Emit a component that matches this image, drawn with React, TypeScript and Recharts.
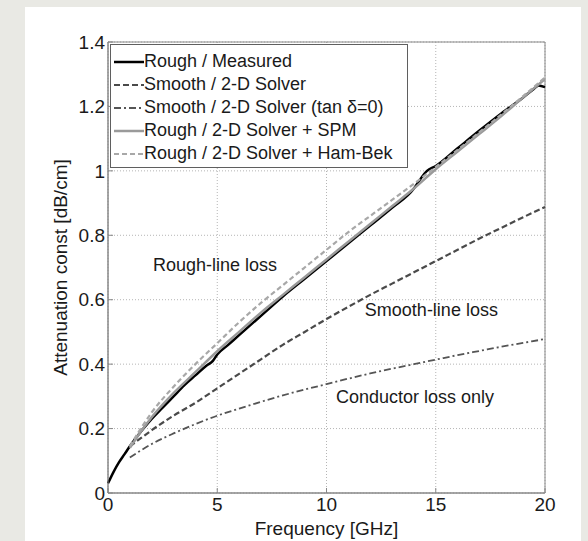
import { LineChart, Line, XAxis, YAxis, CartesianGrid, ReferenceArea, ReferenceDot } from 'recharts'

// measured curve (dense, starts at DC)
const measuredFreq = [0, 0.25, 0.5, 0.75, 1, 1.5, 2, 2.5, 3, 3.5, 4, 4.5, 4.8, 5, 5.5, 6, 7, 8, 9, 10, 11, 12, 13, 14, 14.3, 14.6, 15, 16, 17, 18, 19, 19.5, 19.7, 20]
const measuredLoss = [0.03, 0.065, 0.095, 0.12, 0.145, 0.19, 0.23, 0.265, 0.3, 0.335, 0.365, 0.395, 0.41, 0.43, 0.46, 0.49, 0.55, 0.61, 0.665, 0.72, 0.775, 0.83, 0.885, 0.945, 0.975, 1.0, 1.015, 1.07, 1.125, 1.178, 1.228, 1.255, 1.265, 1.26]

// solver curves share the same frequency grid
const solverFreq = [1, 1.5, 2, 3, 4, 5, 6, 7, 8, 9, 10, 11, 12, 13, 14, 15, 16, 17, 18, 19, 20]
const smoothLoss = [0.145, 0.17, 0.195, 0.24, 0.28, 0.325, 0.37, 0.415, 0.46, 0.5, 0.54, 0.578, 0.615, 0.65, 0.685, 0.72, 0.755, 0.79, 0.823, 0.856, 0.888]
const conductorLoss = [0.11, 0.132, 0.152, 0.185, 0.214, 0.24, 0.262, 0.283, 0.303, 0.321, 0.338, 0.355, 0.371, 0.386, 0.4, 0.414, 0.428, 0.441, 0.454, 0.466, 0.478]
const spmLoss = [0.14, 0.19, 0.235, 0.31, 0.375, 0.44, 0.5, 0.56, 0.615, 0.67, 0.725, 0.78, 0.835, 0.89, 0.945, 1.005, 1.06, 1.115, 1.17, 1.228, 1.285]
const hamBekLoss = [0.145, 0.2, 0.25, 0.33, 0.4, 0.465, 0.53, 0.59, 0.645, 0.7, 0.755, 0.81, 0.86, 0.91, 0.96, 1.012, 1.065, 1.12, 1.175, 1.232, 1.29]

const xTicks = [0, 5, 10, 15, 20]
const yTicks = [0, 0.2, 0.4, 0.6, 0.8, 1, 1.2, 1.4]

const seriesNames = [
  'Rough / Measured',
  'Smooth / 2-D Solver',
  'Smooth / 2-D Solver (tan δ=0)',
  'Rough / 2-D Solver + SPM',
  'Rough / 2-D Solver + Ham-Bek',
]

const toPoints = (fs: number[], vs: number[]) => fs.map((f, i) => ({ f, v: vs[i] }))

const seriesData = [
  toPoints(measuredFreq, measuredLoss),
  toPoints(solverFreq, smoothLoss),
  toPoints(solverFreq, conductorLoss),
  toPoints(solverFreq, spmLoss),
  toPoints(solverFreq, hamBekLoss),
]

const seriesStyle = [
  { color: '#000000', width: 2.5, dash: undefined },
  { color: '#4a4a4a', width: 2.2, dash: '6 3' },
  { color: '#555555', width: 1.8, dash: '7 3 2 3' },
  { color: '#9a9a9a', width: 2.5, dash: undefined },
  { color: '#a8a8a8', width: 2.2, dash: '5 3' },
]

const FONT = 'Arial, "Liberation Sans", Helvetica, sans-serif'

const LEGEND_W = 296
const LEGEND_H = 122

// MATLAB-style legend box in the upper left of the axes
const LegendBox = () => (
  <div
    style={{
      position: 'absolute',
      left: 111,
      top: 45,
      width: LEGEND_W,
      height: LEGEND_H,
      background: '#fff',
      outline: '1.5px solid #5f5f5f',
      padding: '5px 0 0 3px',
      fontFamily: FONT,
      fontSize: 18,
      color: '#1a1a1a',
      boxSizing: 'border-box',
    }}
  >
    {seriesNames.map((name, i) => (
      <div key={name} style={{ display: 'flex', alignItems: 'center', height: 23 }}>
        <svg width={30} height={10} style={{ flex: 'none' }}>
          <line
            x1={0}
            y1={5}
            x2={30}
            y2={5}
            stroke={seriesStyle[i].color}
            strokeWidth={seriesStyle[i].width}
            strokeDasharray={seriesStyle[i].dash}
          />
        </svg>
        <span style={{ whiteSpace: 'nowrap' }}>{name}</span>
      </div>
    ))}
  </div>
)

const YLabel = ({ viewBox }: any) => {
  const x = viewBox.x + 12
  const y = viewBox.y + viewBox.height / 2
  return (
    <text x={x} y={y} transform={`rotate(-90 ${x} ${y})`} textAnchor="middle" dominantBaseline="central" fontSize={19} fontFamily={FONT} fill="#1a1a1a">
      Attenuation const [dB/cm]
    </text>
  )
}

const XLabel = ({ viewBox }: any) => (
  <text x={viewBox.x + viewBox.width / 2} y={viewBox.y + 42} textAnchor="middle" fontSize={19} fontFamily={FONT} fill="#1a1a1a">
    Frequency [GHz]
  </text>
)

const note = (value: string) => ({ value, position: 'center' as const, fontSize: 18, fill: '#1a1a1a', fontFamily: FONT })

export default function App() {
  return (
    <div style={{ position: 'absolute', left: 0, top: 0, width: 588, height: 541, background: '#e9e9e4', overflow: 'hidden' }}>
      <div style={{ position: 'absolute', left: 25, top: 7, width: 556, height: 540, background: '#fff' }} />
      <div style={{ position: 'absolute', left: 0, top: 0 }}>
        <LineChart width={588} height={541} margin={{ top: 42, right: 43, bottom: 18, left: 48 }}>
          <CartesianGrid stroke="#b5b5b5" strokeDasharray="1 2" />
          <XAxis
            dataKey="f"
            type="number"
            domain={[0, 20]}
            ticks={xTicks}
            allowDuplicatedCategory={false}
            height={30}
            tickSize={-5}
            tickMargin={10}
            stroke="#888"
            tick={{ fill: '#1a1a1a', fontSize: 19, fontFamily: FONT }}
            label={<XLabel />}
          />
          <YAxis
            type="number"
            domain={[0, 1.4]}
            ticks={yTicks}
            width={60}
            tickSize={-5}
            tickMargin={8}
            stroke="#888"
            tick={{ fill: '#1a1a1a', fontSize: 19, fontFamily: FONT }}
            label={<YLabel />}
          />
          <ReferenceArea x1={0} x2={20} y1={0} y2={1.4} fill="none" stroke="#888" strokeWidth={1} />
          {seriesData.map((d, i) => (
            <Line
              key={seriesNames[i]}
              data={d}
              dataKey="v"
              name={seriesNames[i]}
              type="monotone"
              stroke={seriesStyle[i].color}
              strokeWidth={seriesStyle[i].width}
              strokeDasharray={seriesStyle[i].dash}
              dot={false}
              activeDot={false}
              isAnimationActive={false}
            />
          ))}
          <ReferenceDot x={4.9} y={0.708} r={1} fill="none" stroke="none" label={note('Rough-line loss')} />
          <ReferenceDot x={14.8} y={0.569} r={1} fill="none" stroke="none" label={note('Smooth-line loss')} />
          <ReferenceDot x={14.05} y={0.3} r={1} fill="none" stroke="none" label={note('Conductor loss only')} />
        </LineChart>
      </div>
      <LegendBox />
    </div>
  )
}
